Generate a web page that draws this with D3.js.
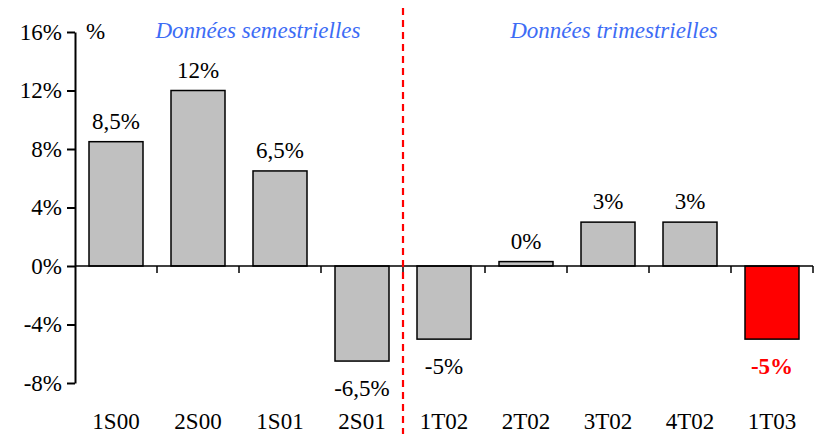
<!DOCTYPE html>
<html><head><meta charset="utf-8">
<script src="https://cdn.jsdelivr.net/npm/d3@7"></script>
<style>body{margin:0;background:#fff;font-family:"Liberation Serif",serif}svg{display:block}</style>
</head><body>
<svg id="chart" width="815" height="434" font-family="Liberation Serif" font-size="23"><text x="86" y="39" font-family="Liberation Serif" font-size="23">%</text></svg>
<script>
const categories = ["1S00","2S00","1S01","2S01","1T02","2T02","3T02","4T02","1T03"];
const values = [8.5, 12, 6.5, -6.5, -5, 0.3, 3, 3, -5];
const valueLabels = ["8,5%","12%","6,5%","-6,5%","-5%","0%","3%","3%","-5%"];
const highlight = [false,false,false,false,false,false,false,false,true];
const yTicks = [-8,-4,0,4,8,12,16];
const sectionTitles = ["Données semestrielles","Données trimestrielles"];

const W = 815, H = 434;
const FF = "Liberation Serif";
const FS = 23;
const svg = d3.select("#chart");
function font(sel){ return sel.attr("font-family", FF).attr("font-size", FS).style("font-family", FF).style("font-size", FS + "px"); }

const x = d3.scaleBand().domain(categories).range([75, 813]).paddingInner(28/82).paddingOuter(14/82);
const y = d3.scaleLinear().domain([-8, 16]).range([383, 32]);

// bars
svg.selectAll("rect.bar").data(values).join("rect").attr("class","bar")
  .attr("x", (d,i) => x(categories[i]))
  .attr("width", x.bandwidth())
  .attr("y", d => y(Math.max(0,d)))
  .attr("height", d => Math.abs(y(d) - y(0)))
  .attr("fill", (d,i) => highlight[i] ? "#ff0000" : "#c0c0c0")
  .attr("stroke", "#000").attr("stroke-width", 1.5);

// y axis
const yAxis = svg.append("g").attr("transform", "translate(75,0)")
  .call(d3.axisLeft(y).tickValues(yTicks).tickFormat(d => d + "%").tickSize(8).tickSizeOuter(0));
yAxis.attr("font-family", FF).attr("font-size", FS);
yAxis.select(".domain").attr("stroke","#000").attr("stroke-width",2);
yAxis.selectAll(".tick line").attr("stroke","#000").attr("stroke-width",2);
font(yAxis.selectAll(".tick text")).attr("fill","#000").attr("x",-13);

// x axis at 0 with ticks at band boundaries
const xg = svg.append("g");
xg.append("line").attr("x1",75).attr("x2",813).attr("y1",y(0)).attr("y2",y(0)).attr("stroke","#000").attr("stroke-width",1.5);
const step = x.step();
xg.selectAll("line.t").data(d3.range(1, categories.length+1)).join("line").attr("class","t")
  .attr("x1", i => 75 + i*step).attr("x2", i => 75 + i*step)
  .attr("y1", y(0)).attr("y2", y(0)+7).attr("stroke","#000").attr("stroke-width",1.5);
font(xg.selectAll("text.cat").data(categories).join("text").attr("class","cat")
  .attr("x", d => x(d) + x.bandwidth()/2).attr("y", 429)
  .attr("text-anchor","middle")).text(d => d);

// value labels
font(svg.selectAll("text.val").data(values).join("text").attr("class","val")
  .attr("x", (d,i) => x(categories[i]) + x.bandwidth()/2)
  .attr("y", d => d >= 0 ? y(d) - 13 : y(d) + 35)
  .attr("text-anchor","middle"))
  .attr("font-weight",(d,i)=> highlight[i] ? "bold" : "normal")
  .attr("fill",(d,i)=> highlight[i] ? "#ff0000" : "#000")
  .text((d,i) => valueLabels[i]);

// divider
svg.append("line").attr("x1",75+4*step).attr("x2",75+4*step).attr("y1",8).attr("y2",H)
  .attr("stroke","#ff0000").attr("stroke-width",2.2).attr("stroke-dasharray","7,5");

// section titles
const centers = [ 258, 614 ];
font(svg.selectAll("text.sec").data(sectionTitles).join("text").attr("class","sec")
  .attr("x",(d,i)=>centers[i]).attr("y",38).attr("text-anchor","middle"))
  .attr("font-style","italic").style("font-style","italic")
  .attr("fill","#3d6cf5").text(d=>d);
</script>
</body></html>
